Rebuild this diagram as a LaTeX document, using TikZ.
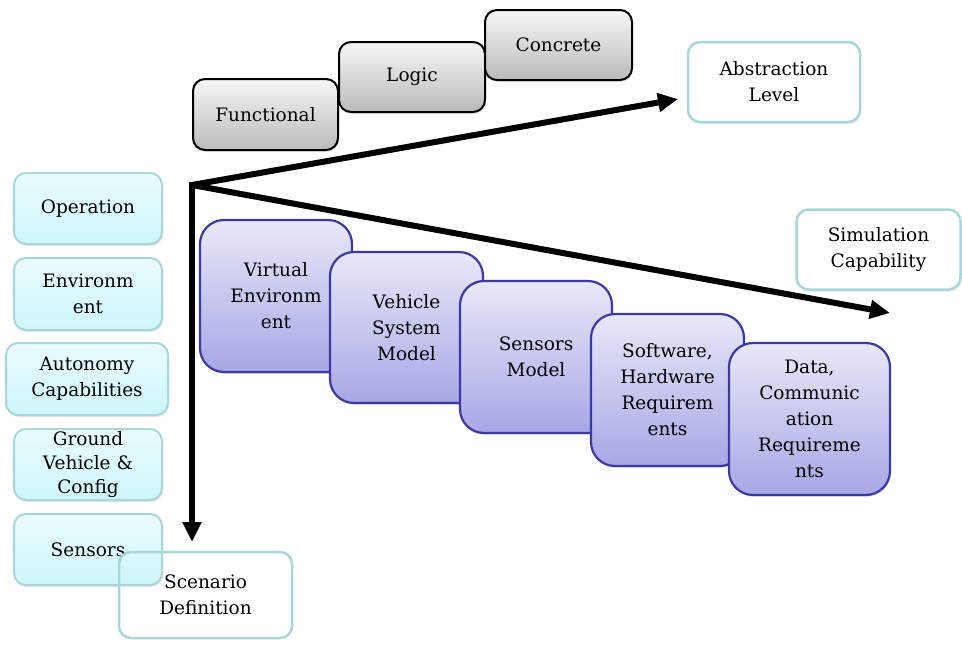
\documentclass[tikz,border=0pt]{standalone}
\usepackage{fontspec}
\setmainfont{DejaVu Serif}
\usetikzlibrary{arrows.meta,shadows}

\definecolor{cyanfillA}{HTML}{EAFCFD}
\definecolor{cyanfillB}{HTML}{CDF6F9}
\definecolor{cyanline}{HTML}{A9D6DA}
\definecolor{purpfillA}{HTML}{E8E8F8}
\definecolor{purpfillB}{HTML}{A7A7E6}
\definecolor{purpline}{HTML}{3A3AA2}
\definecolor{grayfillA}{HTML}{F6F6F6}
\definecolor{grayfillB}{HTML}{BBBBBB}

\tikzset{
  lbl/.style={font=\fontsize{18.5}{26}\selectfont, align=center, text=black},
  softshadow/.style={drop shadow={opacity=0.2, shadow xshift=1pt, shadow yshift=-2pt}},
  graybox/.style={lbl, draw=black, line width=2pt, rounded corners=12pt,
    top color=grayfillA, bottom color=grayfillB, inner sep=0pt, softshadow},
  framebox/.style={lbl, draw=cyanline, line width=2.5pt, rounded corners=12pt, inner sep=0pt},
  axisbox/.style={framebox, fill=white, softshadow},
  cyanbox/.style={lbl, draw=cyanline, line width=2pt, rounded corners=12pt,
    top color=cyanfillA, bottom color=cyanfillB, inner sep=0pt,
    minimum width=148pt, minimum height=71pt, softshadow},
  purpbox/.style={lbl, draw=purpline, line width=2.2pt, rounded corners=24pt,
    top color=purpfillA, bottom color=purpfillB, inner sep=0pt,
    minimum height=152pt, softshadow},
  axis/.style={line width=6pt, -{Triangle[length=20pt,width=18pt]}}
}

\begin{document}
\begin{tikzpicture}[x=1pt,y=-1pt]
\useasboundingbox (0,0) rectangle (962,646);

% abstraction levels
\node[graybox, minimum width=145pt, minimum height=71pt] (functional) at (265.5,114.5) {Functional};
\node[graybox, minimum width=146pt, minimum height=70pt] (logic) at (412,77) {Logic};
\node[graybox, minimum width=147pt, minimum height=70pt] (concrete) at (558.5,45) {Concrete};

% axis labels
\node[axisbox, minimum width=172pt, minimum height=80pt] (abstraction) at (774,82) {Abstraction\\Level};
\node[axisbox, minimum width=164pt, minimum height=80pt] (simulation) at (878.5,249.5) {Simulation\\Capability};

% scenario definition items
\node[cyanbox] (operation) at (88,208.5) {Operation};
\node[cyanbox, minimum height=72pt] (environment) at (88,294) {Environm\\ent};
\node[cyanbox, minimum width=162pt, minimum height=72pt] (autonomy) at (87,379) {Autonomy\\Capabilities};
\node[cyanbox] (ground) at (88,464.5) {Ground\\[-2pt]Vehicle \&\\[-2pt]Config};
\node[cyanbox] (sensors) at (88,549.5) {Sensors};

\node[framebox, minimum width=173pt, minimum height=86pt] (scenario) at (205.5,595) {Scenario\\Definition};

% simulation capability items
\node[purpbox, minimum width=152pt] (virtual) at (276,296) {Virtual\\Environm\\ent};
\node[purpbox, minimum width=153pt, minimum height=151pt] (vehicle) at (406.5,327.5) {Vehicle\\System\\Model};
\node[purpbox, minimum width=152pt] (sensmodel) at (536,357) {Sensors\\Model};
\node[purpbox, minimum width=153pt] (software) at (667.5,390) {Software,\\Hardware\\Requirem\\ents};
\node[purpbox, minimum width=161pt] (data) at (809.5,419) {Data,\\Communic\\ation\\Requireme\\nts};

% axes
\coordinate (origin) at (192,185);
\coordinate (abstip) at (678,99);
\coordinate (simtip) at (890,313);
\coordinate (scentip) at (192,542);
\draw[axis] (origin) -- (abstip);
\draw[axis] (origin) -- (simtip);
\draw[axis] ([yshift=3pt]origin) -- (scentip);
\end{tikzpicture}
\end{document}
